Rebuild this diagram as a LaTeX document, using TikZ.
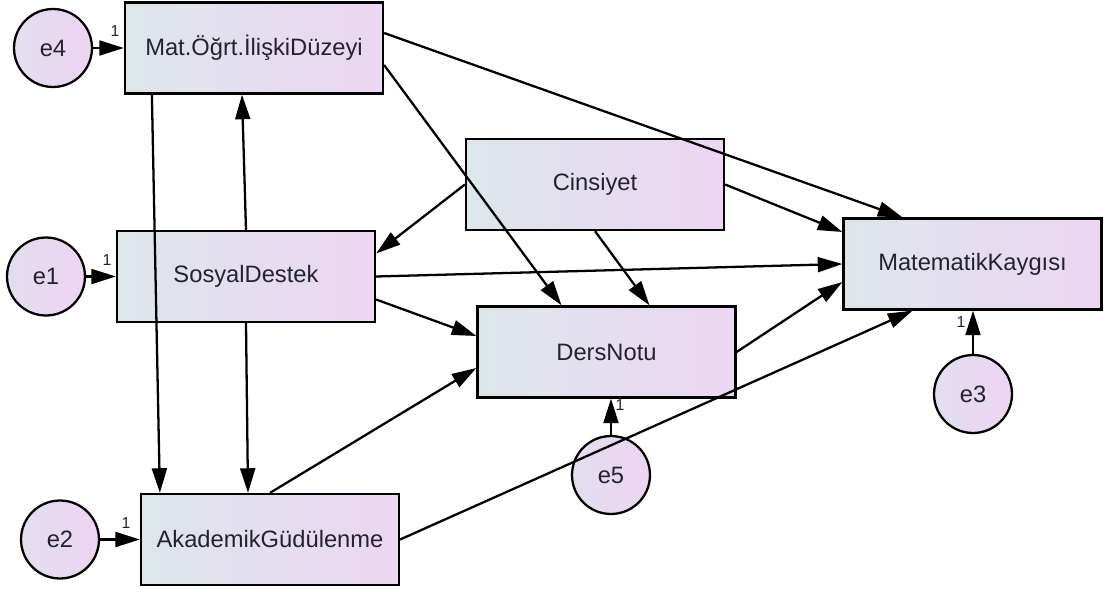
\documentclass[tikz,border=0pt]{standalone}
\usepackage{fontspec}
\setmainfont{Liberation Sans}
\usetikzlibrary{arrows.meta}
\usetikzlibrary{calc}
\definecolor{boxleft}{RGB}{221,230,235}
\definecolor{boxright}{RGB}{236,214,242}
\definecolor{errleft}{RGB}{226,222,238}
\definecolor{errright}{RGB}{238,212,243}
\definecolor{txt}{RGB}{35,35,45}

\begin{document}
\begin{tikzpicture}[x=0.02cm, y=-0.02cm,
    var/.style={draw, line width=1.3pt, left color=boxleft, right color=boxright, minimum width=5.16cm, minimum height=1.82cm, inner sep=0pt, text=txt, font=\fontsize{13.5}{16}\selectfont},
    err/.style={draw, circle, line width=1.3pt, left color=errleft, right color=errright, minimum size=1.56cm, inner sep=0pt, text=txt, font=\fontsize{13.5}{16}\selectfont},
    one/.style={inner sep=0pt, text=txt, font=\fontsize{9}{10}\selectfont},
    causal/.style={line width=1.3pt, -{Triangle[length=14pt, width=8.5pt]}}]
    \useasboundingbox (0,0) rectangle (1107,592);

    \node [var] (matogrt) at (254,48) {Mat.Öğrt.İlişkiDüzeyi};
    \node [var] (cinsiyet) at (595,184.5) {Cinsiyet};
    \node [var] (sosyal) at (246,276.5) {SosyalDestek};
    \node [var] (matkaygi) at (972.5,264) {MatematikKaygısı};
    \node [var] (dersnotu) at (606.5,352) {DersNotu};
    \node [var] (akademik) at (270,539.5) {AkademikGüdülenme};

    \node [err] (e4) at (53,48) {e4};
    \node [err] (e1) at (46,276.5) {e1};
    \node [err] (e2) at (60,539.5) {e2};
    \node [err] (e5) at (611,475) {e5};
    \node [err] (e3) at (973,394) {e3};

    \draw [causal] (e4) -- (matogrt);
    \draw [causal] (e1) -- (sosyal);
    \draw [causal] (e2) -- (akademik);
    \draw [causal] (e5) -- (e5 |- dersnotu.south);
    \draw [causal] (e3) -- (e3 |- matkaygi.south);

    \draw [causal] ($(matogrt.south west)+(28,0)$) -- ($(akademik.north west)+(20,0)$);
    \draw [causal] (sosyal.north) -- ($(matogrt.south)+(-12,0)$);
    \draw [causal] (sosyal.south) -- ($(akademik.north)+(-22,0)$);
    \draw [causal] ($(matogrt.east)+(0,-15)$) -- ($(matkaygi.north)+(-70,0)$);
    \draw [causal] ($(matogrt.east)+(0,17)$) -- ($(dersnotu.north)+(-45,0)$);
    \draw [causal] (cinsiyet.west) -- ($(sosyal.east)+(0,-23)$);
    \draw [causal] (cinsiyet.east) -- ($(matkaygi.west)+(0,-32)$);
    \draw [causal] (cinsiyet.south) -- ($(dersnotu.north)+(43,0)$);
    \draw [causal] (sosyal.east) -- (matkaygi.west);
    \draw [causal] ($(sosyal.east)+(0,23)$) -- ($(dersnotu.west)+(0,-16)$);
    \draw [causal] (akademik.north) -- ($(dersnotu.west)+(0,16)$);
    \draw [causal] (akademik.east) -- ($(matkaygi.south)+(-60,0)$);
    \draw [causal] (dersnotu.east) -- ($(matkaygi.west)+(0,18)$);

    \node [one] (one4) at (115,31) {1};
    \node [one] (one1) at (107,260) {1};
    \node [one] (one2) at (126,523) {1};
    \node [one] (one5) at (620,405) {1};
    \node [one] (one3) at (961,322) {1};
  \end{tikzpicture}
\end{document}
